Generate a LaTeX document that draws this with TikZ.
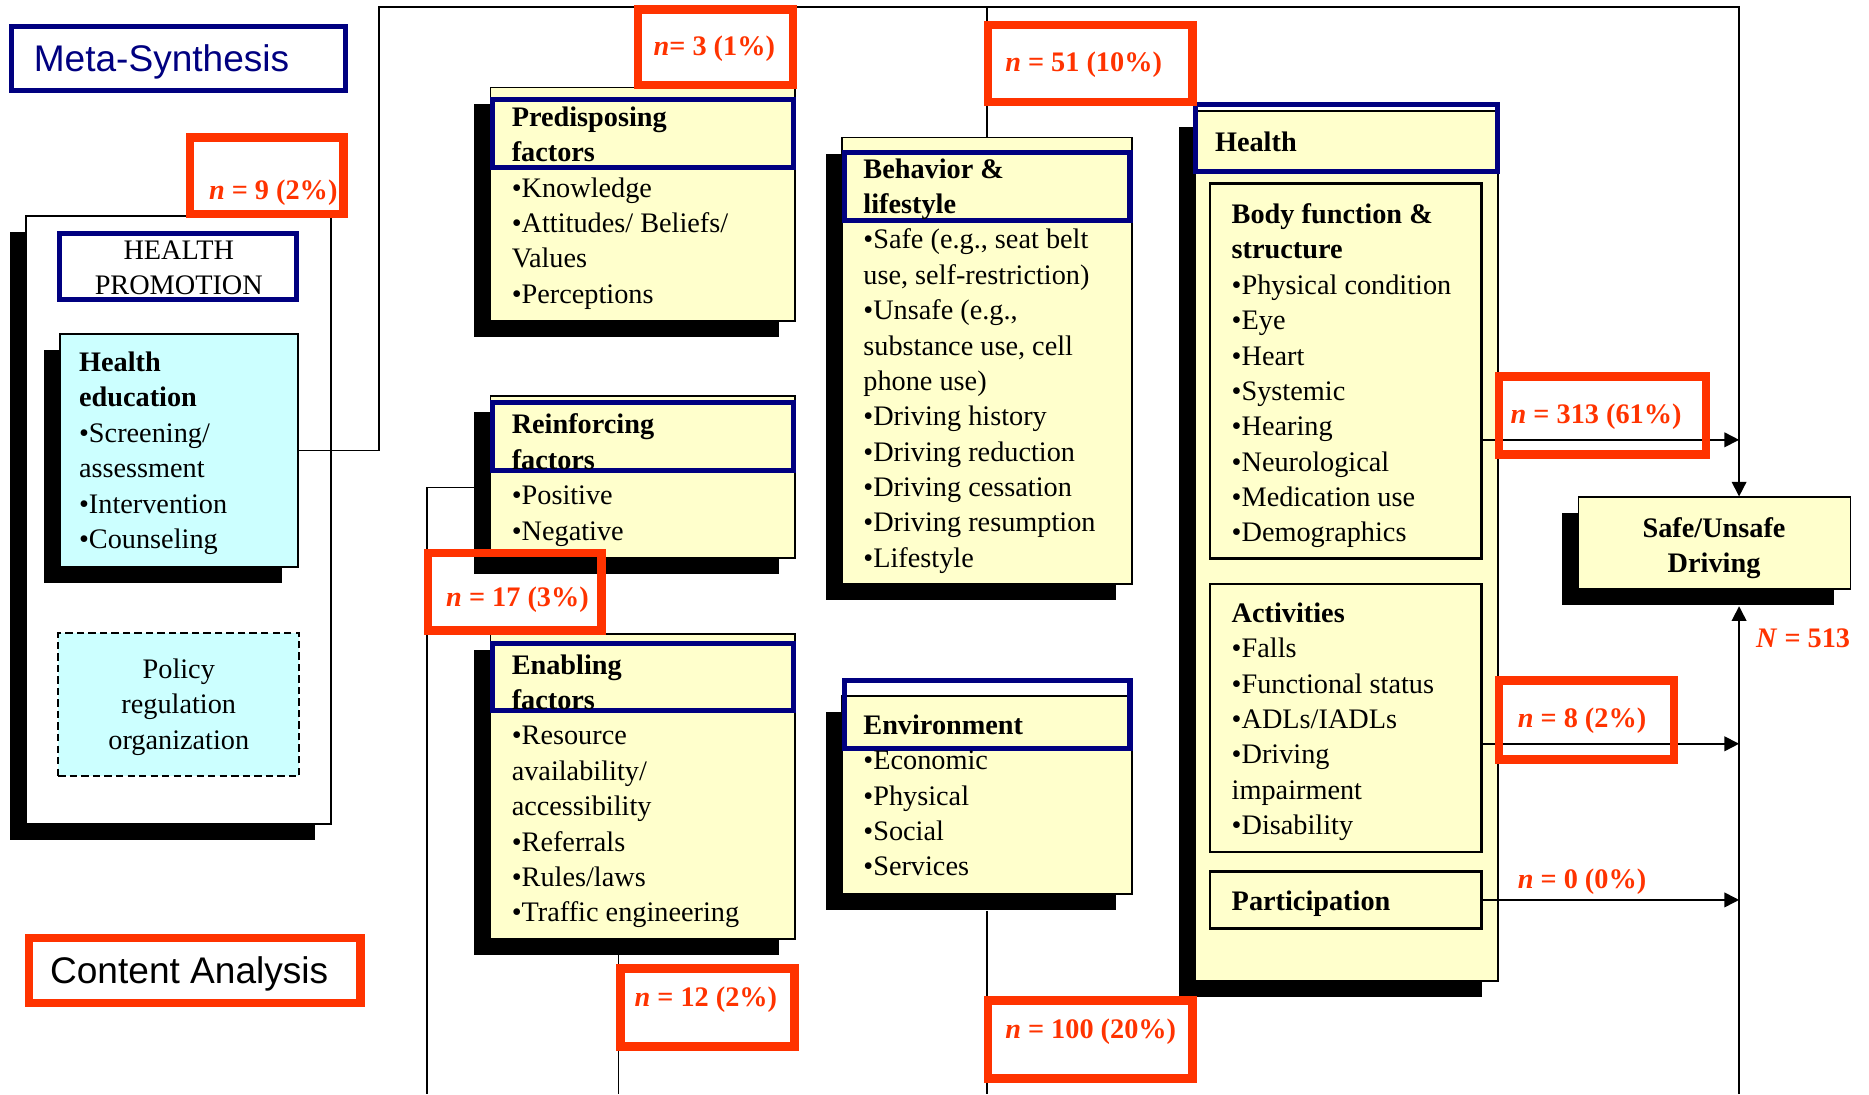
\documentclass[tikz,border=0pt]{standalone}
\usepackage{fontspec}
\setmainfont{Liberation Serif}
\setsansfont{Liberation Sans}
\usepackage{tikz}
\usetikzlibrary{arrows.meta,fit}
\definecolor{navyc}{HTML}{000080}
\definecolor{redc}{HTML}{FF3300}
\definecolor{yelc}{HTML}{FFFFCC}
\definecolor{cyanc}{HTML}{CCFFFF}
\newcommand{\bx}{\fontsize{13.5}{16.9}\selectfont}
\tikzset{
  ar/.style={-{Triangle[length=7pt,width=7pt]},line width=0.8pt},
  ln/.style={line width=0.8pt},
  bxs/.style={draw,line width=0.9pt,inner sep=0pt},
  ttl/.style={draw=navyc,line width=2.4pt,inner sep=0pt},
  rd/.style={draw=redc,line width=4pt,inner sep=0pt},
  tx/.style={font=\bx,align=left,anchor=base west,inner sep=0pt},
  tc/.style={font=\bx,align=center,anchor=base,inner sep=0pt},
  lb/.style={font=\bx\bfseries,text=redc,anchor=base west,inner sep=0pt}
}
% box with drop shadow: name, fill, x1, y1, x2, y2
\newcommand{\shbox}[6]{%
  \fill (#3-13.5,#4+13.5) rectangle (#5-13.5,#6+13.5);
  \node[bxs,fill=#2,fit={(#3,#4) (#5,#6)}] (#1) {};}
% plain frame: name, style, x1, y1, x2, y2
\newcommand{\frm}[6]{\node[#2,fit={(#3,#4) (#5,#6)}] (#1) {};}

\begin{document}
\begin{tikzpicture}[x=0.02cm,y=-0.02cm]
\useasboundingbox (0,0) rectangle (1568,918);
% left column (text nodes sit on the baseline of their last line)
\frm{meta}{ttl}{10}{22}{290}{76}
\node[anchor=base west,inner sep=0pt,font=\sffamily\fontsize{17.7}{20}\selectfont,text=navyc] (metaL) at (28,60) {Meta-Synthesis};
\shbox{hp}{white}{22}{181}{278}{691}
\frm{hpT}{ttl,fill=white}{50}{196}{249}{251}
\node[tc] (hpL) at (150,247.2) {HEALTH\\PROMOTION};
\shbox{he}{cyanc}{50}{280}{250}{476}
\node[tx] (heL) at (66,460.1) {\textbf{Health}\\\textbf{education}\\•Screening/\\assessment\\•Intervention\\•Counseling};
\frm{pol}{bxs,dash pattern=on 3.5pt off 2pt,fill=cyanc}{49}{531}{251}{651}
\node[tc] (polL) at (150,628.4) {Policy\\regulation\\organization};
\frm{ca}{rd}{24.5}{787}{302.3}{841.5}
\node[anchor=base west,inner sep=0pt,font=\sffamily\fontsize{17.7}{20}\selectfont] (caL) at (41.7,825) {Content Analysis};
% factors
\shbox{pre}{yelc}{411.5}{73.4}{667}{269.6}
\frm{preT}{ttl}{413.5}{83.5}{666}{140.4}
\node[tx] (preL) at (429,254.5) {\textbf{Predisposing}\\\textbf{factors}\\•Knowledge\\•Attitudes/ Beliefs/\\Values\\•Perceptions};
\shbox{rei}{yelc}{411.5}{332}{667}{468}
\frm{reiT}{ttl}{413.5}{338}{666}{395}
\node[tx] (reiL) at (429,453.1) {\textbf{Reinforcing}\\\textbf{factors}\\•Positive\\•Negative};
\shbox{ena}{yelc}{411.5}{532}{667}{787.4}
\frm{enaT}{ttl}{413.5}{540}{666}{596}
\node[tx] (enaL) at (429,773.4) {\textbf{Enabling}\\\textbf{factors}\\•Resource\\availability/\\accessibility\\•Referrals\\•Rules/laws\\•Traffic engineering};
\shbox{beh}{yelc}{706.6}{115.4}{949.6}{489.8}
\frm{behT}{ttl}{708.6}{128}{948}{184.8}
\node[tx] (behL) at (724,476) {\textbf{Behavior \&}\\\textbf{lifestyle}\\•Safe (e.g., seat belt\\use, self-restriction)\\•Unsafe (e.g.,\\substance use, cell\\phone use)\\•Driving history\\•Driving reduction\\•Driving cessation\\•Driving resumption\\•Lifestyle};
\shbox{env}{yelc}{706.6}{583.6}{949.6}{749.9}
\frm{envT}{ttl}{708.6}{571}{948}{627.8}
\node[tx] (envL) at (724,734.8) {\textbf{Environment}\\•Economic\\•Physical\\•Social\\•Services};
% health
\shbox{hea}{yelc}{1003}{93}{1257}{822.7}
\frm{heaT}{ttl}{1003}{87.6}{1256}{144}
\node[tx] (heaL) at (1019,126.7) {\textbf{Health}};
\frm{bod}{bxs,line width=1.2pt,fill=yelc}{1015}{154}{1243}{468.7}
\node[tx] (bodL) at (1033,454.7) {\textbf{Body function \&}\\\textbf{structure}\\•Physical condition\\•Eye\\•Heart\\•Systemic\\•Hearing\\•Neurological\\•Medication use\\•Demographics};
\frm{act}{bxs,line width=1.2pt,fill=yelc}{1015}{489.8}{1243}{714.8}
\node[tx] (actL) at (1033,700.2) {\textbf{Activities}\\•Falls\\•Functional status\\•ADLs/IADLs\\•Driving\\impairment\\•Disability};
\frm{par}{bxs,line width=1.2pt,fill=yelc}{1015}{731}{1243}{779}
\node[tx] (parL) at (1033,764) {\textbf{Participation}};
\shbox{saf}{yelc}{1324.3}{417.3}{1552.5}{494.3}
\node[tc,font=\bx\bfseries] (safL) at (1438,480.7) {Safe/Unsafe\\Driving};
% connectors
\coordinate (topL) at (318,6);
\coordinate (topR) at (1459,6);
\coordinate (botR) at (1459,918);
\coordinate (safB) at ([yshift=-0.27cm]saf.south);
\coordinate (bodO) at (1243,369);
\coordinate (actO) at (1243,624);
\coordinate (reiO) at (398,409);
\coordinate (reiB) at (358,918);
\coordinate (enaO) at (519,800.9);
\coordinate (envO) at ([yshift=-0.27cm]env.south);
\draw[ar] (he.east) -| (topL) -- (topR) -- (topR |- saf.north);
\draw[ln] (beh.north) -- (beh.north |- topR);
\draw[ar] (botR) -- (botR |- safB);
\draw[ar] (bodO) -- (bodO -| topR);
\draw[ar] (actO) -- (actO -| topR);
\draw[ar] (par.east) -- (par.east -| topR);
\draw[ln] (reiO) -| (reiB);
\draw[ln] (enaO) -- (enaO |- botR);
\draw[ln] (envO) -- (envO |- botR);
% counts
\frm{r9}{rd}{159.3}{115.5}{288.3}{179.3}
\node[lb] (r9L) at (175,167) {\textit{n} = 9 (2\%)};
\frm{r3}{rd}{535.3}{8}{665.5}{71.5}
\node[lb] (r3L) at (548,46.4) {\textit{n}= 3 (1\%)};
\frm{r51}{rd}{829.1}{20.8}{1000.5}{85.4}
\node[lb] (r51L) at (843,60) {\textit{n} = 51 (10\%)};
\frm{r313}{rd}{1257.5}{316}{1431.2}{381.3}
\node[lb] (r313L) at (1267,355) {\textit{n} = 313 (61\%)};
\frm{r17}{rd}{358.9}{464}{504.5}{529}
\node[lb] (r17L) at (374,509) {\textit{n} = 17 (3\%)};
\frm{r8}{rd}{1257.5}{571}{1404.5}{637.2}
\node[lb] (r8L) at (1273,610) {\textit{n} = 8 (2\%)};
\frm{r12}{rd}{520.5}{812.5}{666.5}{877.9}
\node[lb] (r12L) at (532,844) {\textit{n} = 12 (2\%)};
\frm{r100}{rd}{829.1}{839.5}{1000.5}{904.9}
\node[lb] (r100L) at (843,871) {\textit{n} = 100 (20\%)};
\node[lb] (r0L) at (1273,745) {\textit{n} = 0 (0\%)};
\node[lb] (totL) at (1473,543) {\textit{N} = 513};
\end{tikzpicture}
\end{document}
